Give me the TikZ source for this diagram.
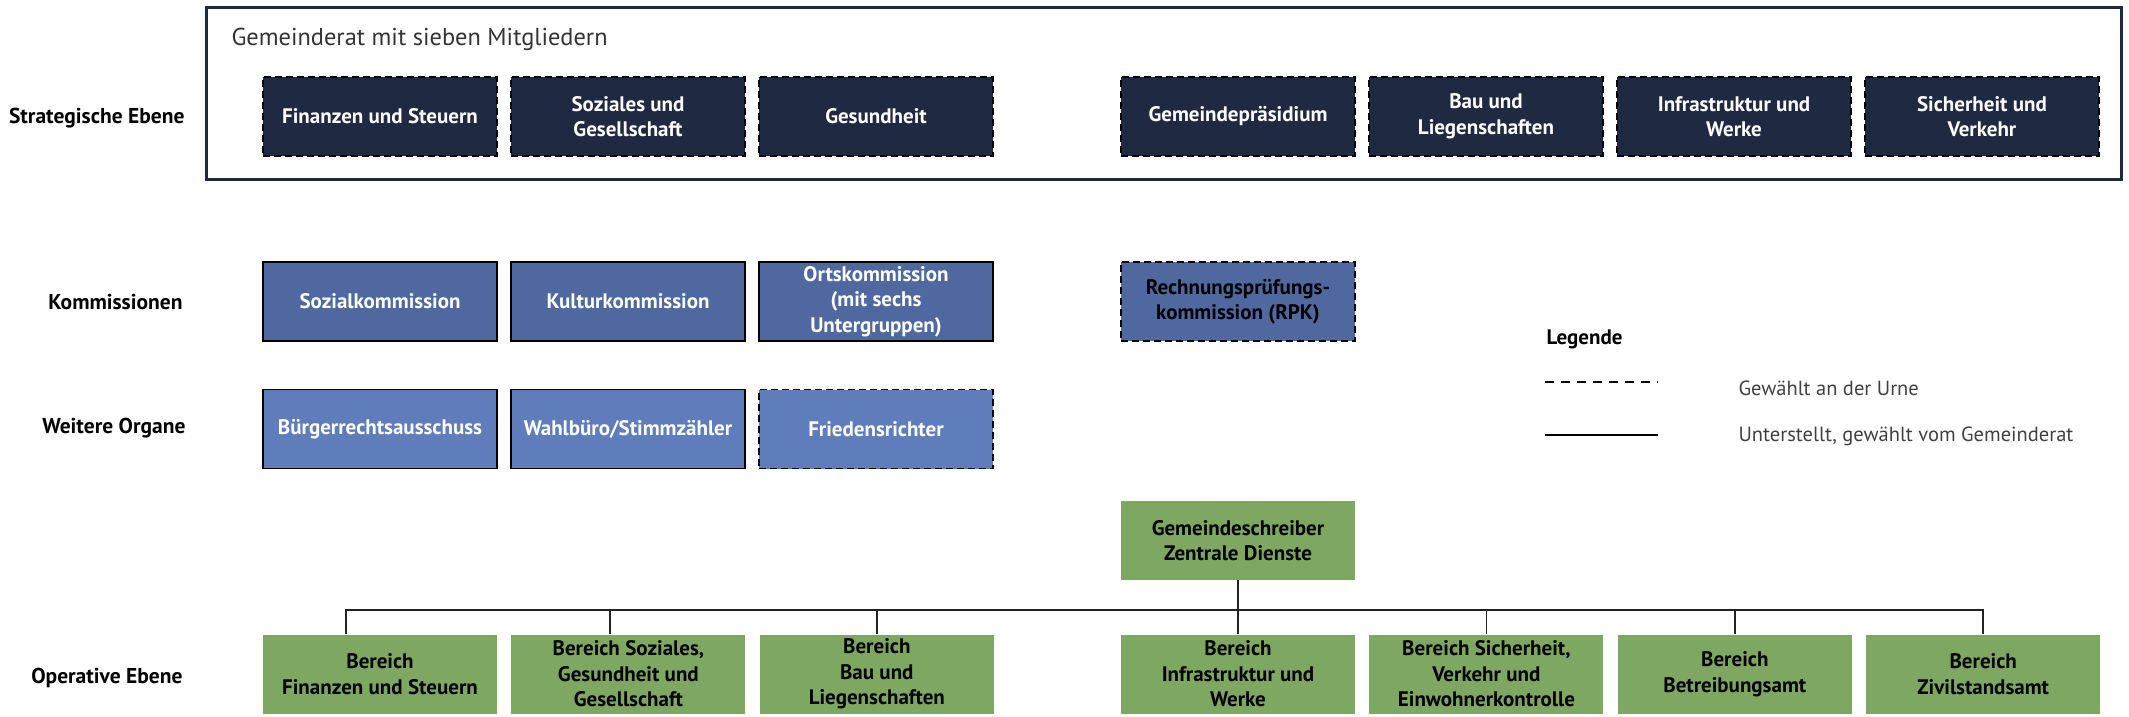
\documentclass[tikz,border=0pt]{standalone}
\usepackage{fontspec}
\setmainfont{PT Sans}
\usetikzlibrary{positioning}
\definecolor{navy}{HTML}{1F2942}
\definecolor{kommblue}{HTML}{4F69A0}
\definecolor{organblue}{HTML}{5F7CBB}
\definecolor{opgreen}{HTML}{7EA862}
\definecolor{treeline}{HTML}{222222}

\tikzset{
  box/.style={minimum width=234pt, minimum height=79pt, inner sep=0pt, align=center,
    font=\fontsize{21}{25.5}\selectfont\bfseries},
  urne/.style={box, draw=black, line width=1.5pt, dash pattern=on 7pt off 4pt},
  unterstellt/.style={box, draw=black, line width=1.5pt},
  strat/.style={urne, fill=navy, text=white},
  komm/.style={unterstellt, fill=kommblue, text=white},
  organ/.style={unterstellt, fill=organblue, text=white},
  oper/.style={box, fill=opgreen, text=black},
  ebene/.style={anchor=east, font=\fontsize{21.5}{25}\selectfont\bfseries},
  legtext/.style={anchor=west, font=\fontsize{20.5}{24}\selectfont, text=black!75},
  tree/.style={treeline, line width=1.6pt}
}

\begin{document}
\begin{tikzpicture}[x=1pt, y=-1pt]
		%%%%% START %%%%%
		\useasboundingbox (0,0) rectangle (2129,716);
		
		% Gemeinderat
		\draw[navy, line width=3pt] (206,7) rectangle (2121,179);
		\node[anchor=west, font=\fontsize{24.4}{28}\selectfont, text=black!80] (gr) at (228,39) {Gemeinderat mit sieben Mitgliedern};
		
		\node[strat] (s1) at (380,116.5) {Finanzen und Steuern};
		\node[strat, right=12.5pt of s1] (s2) {Soziales und\\Gesellschaft};
		\node[strat, right=12.5pt of s2] (s3) {Gesundheit};
		\node[strat] (s4) at (1238,116.5) {Gemeindepräsidium};
		\node[strat, right=12.5pt of s4] (s5) {Bau und\\Liegenschaften};
		\node[strat, right=12.5pt of s5] (s6) {Infrastruktur und\\Werke};
		\node[strat, right=12.5pt of s6] (s7) {Sicherheit und\\Verkehr};
		
		% Kommissionen
		\node[komm] (k1) at (380,301.5) {Sozialkommission};
		\node[komm, right=12.5pt of k1] (k2) {Kulturkommission};
		\node[komm, right=12.5pt of k2] (k3) {Ortskommission\\(mit sechs\\Untergruppen)};
		\node[urne, fill=kommblue, text=black] (rpk) at (1238,301.5) {Rechnungsprüfungs-\\kommission (RPK)};
		
		% Weitere Organe
		\node[organ] (w1) at (380,429) {Bürgerrechtsausschuss};
		\node[organ, right=12.5pt of w1] (w2) {Wahlbüro/Stimmzähler};
		\node[urne, fill=organblue, text=white, right=12.5pt of w2] (w3) {Friedensrichter};
		
		% Operative Ebene
		\node[oper] (gs) at (1238,540.5) {Gemeindeschreiber\\Zentrale Dienste};
		\node[oper] (b1) at (380,674) {Bereich\\Finanzen und Steuern};
		\node[oper, right=14pt of b1] (b2) {Bereich Soziales,\\Gesundheit und\\Gesellschaft};
		\node[oper, right=14pt of b2] (b3) {Bereich\\Bau und\\Liegenschaften};
		\node[oper] (b4) at (1238,674) {Bereich\\Infrastruktur und\\Werke};
		\node[oper, right=14pt of b4] (b5) {Bereich Sicherheit,\\Verkehr und\\Einwohnerkontrolle};
		\node[oper, right=14pt of b5] (b6) {Bereich\\Betreibungsamt};
		\node[oper, right=14pt of b6] (b7) {Bereich\\Zivilstandsamt};
		
		\coordinate (busL) at (346,610);
		\coordinate (drop2) at (610,610);
		\coordinate (busR) at (b7.north |- busL);
		\draw[tree] (busL |- b1.north) -- (busL) -- (busR) -- (b7.north);
		\draw[tree] (gs.south) -- (b4.north);
		\draw[tree] (drop2) -- (drop2 |- b2.north);
		\foreach \b in {b3,b5,b6}
			\draw[tree] (\b.north |- busL) -- (\b.north);
		
		% Ebenen
		\node[ebene] (e1) at (188,118) {Strategische Ebene};
		\node[ebene] (e2) at (186,302) {Kommissionen};
		\node[ebene] (e3) at (189,428) {Weitere Organe};
		\node[ebene] (e4) at (186,678) {Operative Ebene};
		
		% Legende
		\node[anchor=west, font=\fontsize{21}{25}\selectfont\bfseries] (leg) at (1543,339) {Legende};
		\coordinate (dashA) at (1545,382);
		\coordinate (dashB) at (1658,382);
		\coordinate (solA) at (1545,435);
		\coordinate (solB) at (1658,435);
		\draw[line width=1.8pt, dash pattern=on 9pt off 7pt] (dashA) -- (dashB);
		\draw[line width=1.8pt] (solA) -- (solB);
		\node[legtext] (l1) at (1735,388) {Gewählt an der Urne};
		\node[legtext] (l2) at (1735,436) {Unterstellt, gewählt vom Gemeinderat};
		
		%%%%% END %%%%%
	\end{tikzpicture}
\end{document}
